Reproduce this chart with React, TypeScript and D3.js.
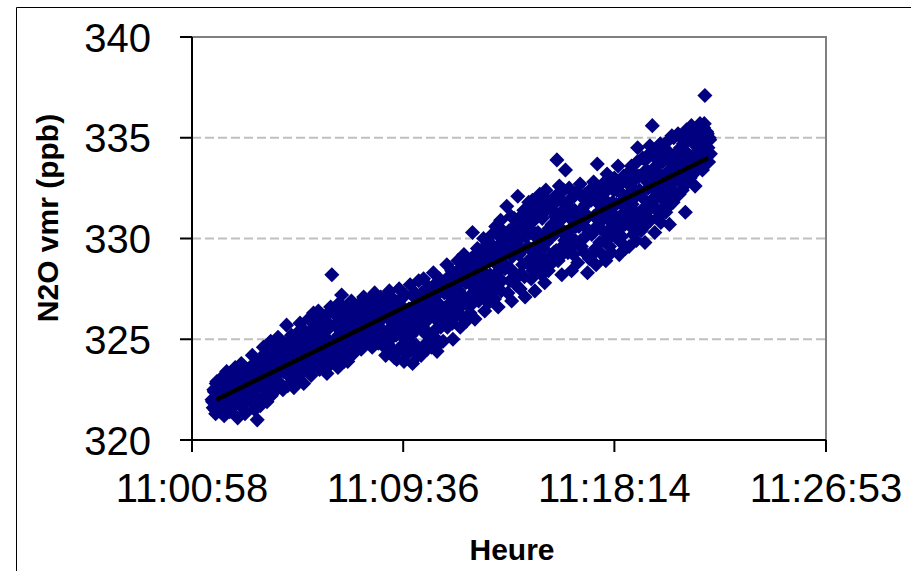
import React from "react";
import * as d3 from "d3";

// ---- data ----
// Two interleaved sample sequences, each every 3 s (together every 1.5 s)
const obsStart = "11:01:47";
const obsStepSeconds = 3;
const obsOffsetB = 1.5;
const n2oPpbA = [
  322.0, 321.6, 322.4, 321.3, 322.9, 321.8, 322.2, 321.4, 323.1, 322.6,
  321.2, 322.7, 323.4, 321.9, 322.3, 321.5, 323.0, 322.1, 321.7, 323.6,
  322.4, 321.1, 323.2, 322.0, 323.8, 321.6, 322.8, 321.3, 322.5, 323.5,
  322.9, 323.6, 321.9, 324.2, 322.3, 321.5, 323.1, 321.0, 322.7, 323.9,
  323.3, 322.1, 324.6, 322.8, 323.7, 321.9, 324.1, 322.5, 324.9, 323.0,
  323.9, 322.4, 324.5, 323.2, 325.1, 322.8, 324.0, 323.5, 322.5, 324.8,
  323.6, 325.7, 322.7, 324.3, 323.1, 325.2, 323.8, 322.6, 324.7, 324.0,
  324.4, 323.0, 325.8, 323.7, 324.9, 322.8, 325.3, 324.1, 323.4, 326.0,
  324.6, 323.2, 325.5, 326.3, 323.8, 325.0, 324.2, 326.4, 323.5, 325.7,
  325.2, 323.6, 326.1, 324.5, 323.3, 325.8, 324.9, 326.6, 328.2, 324.0,
  324.3, 326.2, 325.0, 323.6, 326.8, 325.5, 327.2, 324.7, 323.9, 326.0,
  325.6, 323.9, 326.5, 324.8, 326.9, 325.2, 324.3, 326.1, 325.9, 324.6,
  325.3, 326.8, 324.5, 326.0, 327.1, 325.7, 324.9, 326.4, 325.1, 327.0,
  326.2, 324.6, 325.8, 327.3, 325.0, 326.7, 324.8, 326.0, 327.1, 325.5,
  325.4, 327.0, 324.2, 326.3, 325.0, 327.4, 324.6, 326.6, 325.7, 324.1,
  326.9, 324.0, 325.5, 327.5, 324.6, 326.2, 325.1, 323.9, 327.2, 325.8,
  324.3, 326.5, 327.7, 325.2, 323.8, 326.0, 327.3, 324.7, 325.6, 327.9,
  325.9, 324.2, 327.0, 328.0, 325.3, 326.6, 324.5, 327.6, 326.1, 325.0,
  326.4, 328.3, 325.1, 327.2, 324.4, 326.8, 328.0, 325.6, 327.5, 324.9,
  327.3, 325.8, 328.7, 326.5, 327.9, 326.0, 328.4, 325.0, 326.9, 327.6,
  326.2, 328.9, 327.4, 325.6, 328.2, 326.8, 329.2, 327.0, 325.9, 328.5,
  327.8, 326.3, 329.0, 330.3, 328.4, 326.0, 327.5, 329.5, 326.9, 328.1,
  328.6, 327.2, 330.0, 326.4, 329.3, 328.0, 326.8, 329.8, 327.6, 330.2,
  329.1, 327.0, 330.6, 328.3, 326.6, 329.7, 330.9, 327.9, 328.8, 330.1,
  329.4, 331.6, 327.3, 330.4, 328.5, 326.9, 329.9, 331.0, 328.1, 330.7,
  332.1, 329.2, 327.5, 330.8, 328.7, 331.4, 327.1, 330.1, 329.6, 331.8,
  330.5, 328.0, 331.9, 329.3, 327.4, 331.2, 330.0, 328.6, 332.2, 329.8,
  331.0, 329.5, 327.8, 332.4, 330.3, 328.4, 331.6, 329.1, 330.7, 332.0,
  330.2, 331.8, 333.9, 328.9, 332.6, 330.9, 328.2, 331.4, 329.7, 333.4,
  331.7, 329.3, 332.5, 330.4, 328.4, 331.1, 332.1, 329.9, 330.8, 328.8,
  330.6, 332.7, 329.6, 331.5, 330.0, 332.2, 331.0, 328.3, 330.3, 332.4,
  331.9, 329.2, 332.8, 330.5, 328.7, 333.7, 331.3, 329.8, 332.3, 330.9,
  332.0, 330.3, 328.9, 333.2, 331.6, 329.6, 332.7, 330.8, 331.2, 333.0,
  330.6, 332.4, 333.6, 329.2, 331.8, 330.1, 332.9, 331.3, 329.5, 332.1,
  331.4, 329.6, 332.6, 333.6, 330.5, 332.0, 331.0, 329.9, 334.5, 333.1,
  332.3, 330.4, 334.0, 331.5, 329.8, 333.4, 332.8, 330.9, 334.6, 331.8,
  335.6, 332.0, 330.3, 333.6, 331.4, 334.4, 332.7, 330.8, 333.9, 331.9,
  333.0, 331.3, 334.8, 332.4, 330.7, 333.8, 335.1, 331.8, 332.9, 334.2,
  333.4, 335.2, 332.2, 334.5, 333.0, 334.0, 332.6, 331.3, 335.4, 333.7,
  334.1, 333.0, 335.6, 333.3, 334.8, 332.6, 335.0, 333.8, 334.4, 335.7,
  334.6, 333.4, 335.5, 337.1, 334.0, 335.2, 333.8, 334.9,
];
const n2oPpbB = [
  321.9, 322.5, 321.5, 322.8, 322.1, 321.7, 322.6, 322.3, 321.9, 322.8,
  322.5, 321.8, 322.9, 322.2, 321.4, 323.2, 322.6, 321.9, 322.4, 323.0,
  322.2, 322.9, 321.8, 323.0, 322.6, 322.3, 321.9, 323.4, 322.1, 322.7,
  323.3, 322.4, 323.0, 322.1, 323.7, 322.6, 322.0, 323.4, 322.8, 321.7,
  322.7, 323.9, 323.1, 324.3, 322.4, 323.5, 322.9, 323.8, 322.2, 324.0,
  323.0, 324.2, 323.6, 322.9, 324.6, 323.8, 324.3, 322.7, 323.4, 324.1,
  324.2, 323.4, 324.9, 323.9, 324.5, 323.2, 325.0, 324.4, 323.7, 325.3,
  323.9, 325.1, 324.6, 323.3, 325.5, 324.2, 323.8, 325.0, 324.7, 323.6,
  325.2, 324.0, 324.9, 323.7, 325.9, 324.4, 325.3, 323.9, 324.8, 326.0,
  324.4, 325.5, 323.9, 326.2, 325.0, 324.2, 325.6, 323.8, 324.7, 326.3,
  325.7, 324.6, 326.4, 325.2, 324.1, 325.9, 324.8, 326.5, 325.3, 324.4,
  326.2, 325.0, 325.4, 326.7, 324.7, 326.0, 325.7, 324.9, 326.4, 325.3,
  326.1, 325.4, 324.8, 326.6, 325.8, 326.2, 325.0, 326.9, 325.6, 326.3,
  325.3, 326.5, 325.9, 324.9, 326.8, 325.6, 326.3, 325.2, 326.6, 324.7,
  326.1, 325.2, 326.9, 324.8, 326.0, 325.5, 327.1, 325.1, 326.4, 325.9,
  325.2, 326.6, 324.5, 326.0, 327.0, 325.3, 324.4, 326.5, 325.6, 324.8,
  325.9, 324.9, 326.3, 327.2, 324.5, 325.4, 326.7, 325.8, 324.2, 326.2,
  326.4, 327.3, 325.6, 324.7, 326.8, 325.9, 327.5, 325.2, 326.3, 324.6,
  327.0, 325.4, 326.2, 327.8, 325.9, 327.3, 324.8, 326.6, 327.6, 325.8,
  326.2, 327.5, 325.6, 328.1, 326.8, 327.1, 325.8, 327.8, 326.4, 328.3,
  327.7, 326.5, 328.0, 327.2, 326.1, 328.6, 326.9, 327.8, 328.7, 326.7,
  328.5, 327.2, 328.8, 326.8, 327.9, 329.2, 327.0, 328.3, 327.6, 329.1,
  327.9, 329.5, 328.3, 327.5, 329.0, 327.1, 328.9, 328.2, 329.6, 327.3,
  328.0, 329.4, 327.6, 330.2, 328.6, 329.0, 327.4, 330.4, 329.3, 328.5,
  330.0, 328.6, 329.6, 327.9, 331.1, 329.1, 328.3, 330.2, 327.7, 329.5,
  329.9, 328.2, 331.1, 329.4, 330.5, 328.1, 330.9, 328.8, 331.3, 330.3,
  329.0, 330.8, 328.4, 331.5, 329.6, 328.9, 330.3, 331.7, 329.2, 328.2,
  330.0, 331.3, 328.9, 329.8, 331.9, 330.5, 328.7, 330.1, 331.4, 329.3,
  331.1, 329.4, 332.2, 330.6, 329.1, 331.9, 330.3, 332.4, 329.9, 331.3,
  330.2, 331.6, 329.5, 332.0, 330.9, 329.2, 331.4, 330.6, 332.3, 329.7,
  331.3, 329.9, 330.8, 332.0, 329.3, 331.7, 330.5, 331.1, 329.0, 331.9,
  330.2, 332.0, 331.1, 329.5, 332.5, 330.6, 331.7, 329.3, 331.0, 332.7,
  331.4, 332.3, 329.9, 331.0, 332.9, 330.5, 329.3, 331.8, 332.4, 330.1,
  331.7, 330.4, 332.6, 331.0, 329.8, 332.2, 333.1, 330.7, 331.5, 332.8,
  332.2, 330.9, 333.4, 331.7, 330.2, 332.9, 331.3, 333.8, 330.7, 332.4,
  331.0, 333.1, 332.0, 330.6, 333.9, 331.3, 332.5, 334.2, 330.9, 333.3,
  332.9, 331.6, 334.0, 332.3, 333.3, 331.1, 334.7, 332.6, 333.8, 331.5,
  332.1, 334.4, 333.3, 331.6, 334.0, 332.7, 333.5, 335.0, 332.3, 333.9,
  334.2, 332.9, 333.6, 335.0, 332.4, 334.7, 333.2, 334.3, 332.8, 334.9,
  333.6, 335.2, 334.0, 333.2, 335.4, 334.6, 333.5, 335.1, 334.2, 333.9,
  335.0, 334.3, 335.7, 333.7, 335.3, 334.5, 335.0, 334.2,
];
const trendTimes = ["11:01:58", "11:22:04"];
const trendPpb = [322.0, 334.0];
const xTickLabels = ["11:00:58", "11:09:36", "11:18:14", "11:26:53"];
const yTicks = [320, 325, 330, 335, 340];
const yGrid = [325, 330, 335];
const xTitle = "Heure";
const yTitle = "N2O vmr (ppb)";

const W = 911;
const H = 571;
const M = { left: 192, top: 37, right: 826, bottom: 440 };
const FONT = "'Liberation Sans', Arial, Helvetica, sans-serif";

export default function App() {
  const parse = d3.timeParse("%H:%M:%S");
  const tickDates = xTickLabels.map((s) => parse(s) as Date);
  const x = d3
    .scaleTime()
    .domain([tickDates[0], tickDates[tickDates.length - 1]])
    .range([M.left, M.right]);
  const y = d3.scaleLinear().domain([320, 340]).range([M.bottom, M.top]);

  const start = (parse(obsStart) as Date).getTime();
  const points = [
    ...n2oPpbA.map((v, i) => ({ t: new Date(start + i * obsStepSeconds * 1000), v })),
    ...n2oPpbB.map((v, i) => ({
      t: new Date(start + (obsOffsetB + i * obsStepSeconds) * 1000),
      v,
    })),
  ].sort((a, b) => +a.t - +b.t);
  const diamond = d3.symbol(d3.symbolDiamond2, 145)() as string;

  const trend = trendTimes.map((s, i) => ({ t: parse(s) as Date, v: trendPpb[i] }));
  const trendPath = d3
    .line<{ t: Date; v: number }>()
    .x((d) => x(d.t))
    .y((d) => y(d.v))(trend) as string;

  return (
    <svg
      width={W}
      height={H}
      style={{ position: "absolute", left: 0, top: 0, background: "#fff" }}
      fontFamily={FONT}
    >
      <rect x={0} y={0} width={W} height={H} fill="#fff" />
      {/* outer frame */}
      <path d={`M16.5,${H} V7.5 H${W}`} fill="none" stroke="#000" strokeWidth={1} />

      {/* grid */}
      {yGrid.map((g) => (
        <line
          key={g}
          x1={M.left}
          x2={M.right}
          y1={y(g)}
          y2={y(g)}
          stroke="#c0c0c0"
          strokeWidth={2}
          strokeDasharray="9,4"
        />
      ))}

      {/* points */}
      <g fill="#000080">
        {points.map((p, i) => (
          <path key={i} d={diamond} transform={`translate(${x(p.t)},${y(p.v)})`} />
        ))}
      </g>

      {/* trend line */}
      <path d={trendPath} fill="none" stroke="#000" strokeWidth={4.5} />

      {/* plot border top/right */}
      <path
        d={`M${M.left},${M.top} H${M.right} V${M.bottom}`}
        fill="none"
        stroke="#808080"
        strokeWidth={2}
      />
      {/* axes */}
      <line x1={M.left} x2={M.left} y1={M.top} y2={M.bottom + 12} stroke="#000" strokeWidth={2} />
      <line x1={M.left - 12} x2={M.right} y1={M.bottom} y2={M.bottom} stroke="#000" strokeWidth={2} />

      {yTicks.map((t) => (
        <g key={t}>
          <line x1={M.left - 12} x2={M.left} y1={y(t)} y2={y(t)} stroke="#000" strokeWidth={2} />
          <text x={151} y={y(t) + 14.5} textAnchor="end" fontSize={40} fill="#000">
            {t}
          </text>
        </g>
      ))}
      {tickDates.map((d, i) => (
        <g key={i}>
          <line x1={x(d)} x2={x(d)} y1={M.bottom} y2={M.bottom + 12} stroke="#000" strokeWidth={2} />
          <text x={x(d)} y={502} textAnchor="middle" fontSize={40} fill="#000">
            {xTickLabels[i]}
          </text>
        </g>
      ))}

      <text x={512} y={560} textAnchor="middle" fontSize={30} fontWeight="bold" fill="#000">
        {xTitle}
      </text>
      <text
        transform={`translate(58,218) rotate(-90)`}
        textAnchor="middle"
        fontSize={30}
        fontWeight="bold"
        fill="#000"
      >
        {yTitle}
      </text>
    </svg>
  );
}
